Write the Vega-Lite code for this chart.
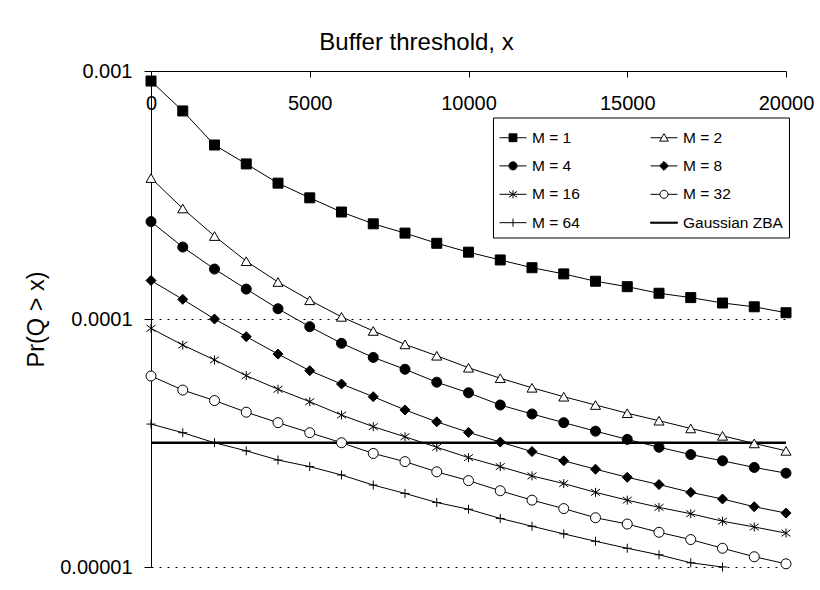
{
  "$schema": "https://vega.github.io/schema/vega-lite/v6.json",
  "autosize": {"type": "none"},
  "width": 635,
  "height": 496,
  "padding": {"left": 151, "top": 71, "right": 34, "bottom": 23},
  "background": "white",
  "config": {"font": "Liberation Sans", "view": {"stroke": null}},
  "data": {"values": [
    {"series":"M = 1","x":0,"p":9.11e-4},{"series":"M = 1","x":1000,"p":6.9e-4},{"series":"M = 1","x":2000,"p":5.03e-4},{"series":"M = 1","x":3000,"p":4.22e-4},{"series":"M = 1","x":4000,"p":3.53e-4},{"series":"M = 1","x":5000,"p":3.08e-4},{"series":"M = 1","x":6000,"p":2.7e-4},{"series":"M = 1","x":7000,"p":2.42e-4},{"series":"M = 1","x":8000,"p":2.22e-4},{"series":"M = 1","x":9000,"p":2.02e-4},{"series":"M = 1","x":10000,"p":1.86e-4},{"series":"M = 1","x":11000,"p":1.73e-4},{"series":"M = 1","x":12000,"p":1.61e-4},{"series":"M = 1","x":13000,"p":1.52e-4},{"series":"M = 1","x":14000,"p":1.42e-4},{"series":"M = 1","x":15000,"p":1.35e-4},{"series":"M = 1","x":16000,"p":1.27e-4},{"series":"M = 1","x":17000,"p":1.22e-4},{"series":"M = 1","x":18000,"p":1.16e-4},{"series":"M = 1","x":19000,"p":1.12e-4},{"series":"M = 1","x":20000,"p":1.06e-4},
    {"series":"M = 2","x":0,"p":3.7e-4},{"series":"M = 2","x":1000,"p":2.79e-4},{"series":"M = 2","x":2000,"p":2.16e-4},{"series":"M = 2","x":3000,"p":1.71e-4},{"series":"M = 2","x":4000,"p":1.41e-4},{"series":"M = 2","x":5000,"p":1.19e-4},{"series":"M = 2","x":6000,"p":1.02e-4},{"series":"M = 2","x":7000,"p":8.95e-5},{"series":"M = 2","x":8000,"p":7.9e-5},{"series":"M = 2","x":9000,"p":7.11e-5},{"series":"M = 2","x":10000,"p":6.36e-5},{"series":"M = 2","x":11000,"p":5.77e-5},{"series":"M = 2","x":12000,"p":5.28e-5},{"series":"M = 2","x":13000,"p":4.86e-5},{"series":"M = 2","x":14000,"p":4.5e-5},{"series":"M = 2","x":15000,"p":4.17e-5},{"series":"M = 2","x":16000,"p":3.89e-5},{"series":"M = 2","x":17000,"p":3.62e-5},{"series":"M = 2","x":18000,"p":3.38e-5},{"series":"M = 2","x":19000,"p":3.15e-5},{"series":"M = 2","x":20000,"p":2.94e-5},
    {"series":"M = 4","x":0,"p":2.47e-4},{"series":"M = 4","x":1000,"p":1.95e-4},{"series":"M = 4","x":2000,"p":1.59e-4},{"series":"M = 4","x":3000,"p":1.32e-4},{"series":"M = 4","x":4000,"p":1.1e-4},{"series":"M = 4","x":5000,"p":9.31e-5},{"series":"M = 4","x":6000,"p":7.98e-5},{"series":"M = 4","x":7000,"p":7.0e-5},{"series":"M = 4","x":8000,"p":6.27e-5},{"series":"M = 4","x":9000,"p":5.56e-5},{"series":"M = 4","x":10000,"p":5.04e-5},{"series":"M = 4","x":11000,"p":4.5e-5},{"series":"M = 4","x":12000,"p":4.14e-5},{"series":"M = 4","x":13000,"p":3.82e-5},{"series":"M = 4","x":14000,"p":3.53e-5},{"series":"M = 4","x":15000,"p":3.27e-5},{"series":"M = 4","x":16000,"p":3.04e-5},{"series":"M = 4","x":17000,"p":2.84e-5},{"series":"M = 4","x":18000,"p":2.68e-5},{"series":"M = 4","x":19000,"p":2.52e-5},{"series":"M = 4","x":20000,"p":2.39e-5},
    {"series":"M = 8","x":0,"p":1.43e-4},{"series":"M = 8","x":1000,"p":1.2e-4},{"series":"M = 8","x":2000,"p":1.0e-4},{"series":"M = 8","x":3000,"p":8.49e-5},{"series":"M = 8","x":4000,"p":7.22e-5},{"series":"M = 8","x":5000,"p":6.19e-5},{"series":"M = 8","x":6000,"p":5.47e-5},{"series":"M = 8","x":7000,"p":4.86e-5},{"series":"M = 8","x":8000,"p":4.3e-5},{"series":"M = 8","x":9000,"p":3.85e-5},{"series":"M = 8","x":10000,"p":3.49e-5},{"series":"M = 8","x":11000,"p":3.19e-5},{"series":"M = 8","x":12000,"p":2.92e-5},{"series":"M = 8","x":13000,"p":2.68e-5},{"series":"M = 8","x":14000,"p":2.48e-5},{"series":"M = 8","x":15000,"p":2.3e-5},{"series":"M = 8","x":16000,"p":2.15e-5},{"series":"M = 8","x":17000,"p":2.0e-5},{"series":"M = 8","x":18000,"p":1.88e-5},{"series":"M = 8","x":19000,"p":1.75e-5},{"series":"M = 8","x":20000,"p":1.65e-5},
    {"series":"M = 16","x":0,"p":9.17e-5},{"series":"M = 16","x":1000,"p":7.85e-5},{"series":"M = 16","x":2000,"p":6.84e-5},{"series":"M = 16","x":3000,"p":5.91e-5},{"series":"M = 16","x":4000,"p":5.21e-5},{"series":"M = 16","x":5000,"p":4.64e-5},{"series":"M = 16","x":6000,"p":4.1e-5},{"series":"M = 16","x":7000,"p":3.68e-5},{"series":"M = 16","x":8000,"p":3.35e-5},{"series":"M = 16","x":9000,"p":3.04e-5},{"series":"M = 16","x":10000,"p":2.76e-5},{"series":"M = 16","x":11000,"p":2.54e-5},{"series":"M = 16","x":12000,"p":2.33e-5},{"series":"M = 16","x":13000,"p":2.17e-5},{"series":"M = 16","x":14000,"p":2.0e-5},{"series":"M = 16","x":15000,"p":1.86e-5},{"series":"M = 16","x":16000,"p":1.74e-5},{"series":"M = 16","x":17000,"p":1.64e-5},{"series":"M = 16","x":18000,"p":1.53e-5},{"series":"M = 16","x":19000,"p":1.45e-5},{"series":"M = 16","x":20000,"p":1.37e-5},
    {"series":"M = 32","x":0,"p":5.89e-5},{"series":"M = 32","x":1000,"p":5.17e-5},{"series":"M = 32","x":2000,"p":4.69e-5},{"series":"M = 32","x":3000,"p":4.21e-5},{"series":"M = 32","x":4000,"p":3.82e-5},{"series":"M = 32","x":5000,"p":3.48e-5},{"series":"M = 32","x":6000,"p":3.17e-5},{"series":"M = 32","x":7000,"p":2.87e-5},{"series":"M = 32","x":8000,"p":2.66e-5},{"series":"M = 32","x":9000,"p":2.42e-5},{"series":"M = 32","x":10000,"p":2.23e-5},{"series":"M = 32","x":11000,"p":2.03e-5},{"series":"M = 32","x":12000,"p":1.86e-5},{"series":"M = 32","x":13000,"p":1.72e-5},{"series":"M = 32","x":14000,"p":1.58e-5},{"series":"M = 32","x":15000,"p":1.49e-5},{"series":"M = 32","x":16000,"p":1.38e-5},{"series":"M = 32","x":17000,"p":1.29e-5},{"series":"M = 32","x":18000,"p":1.19e-5},{"series":"M = 32","x":19000,"p":1.1e-5},{"series":"M = 32","x":20000,"p":1.03e-5},
    {"series":"M = 64","x":0,"p":3.77e-5},{"series":"M = 64","x":1000,"p":3.48e-5},{"series":"M = 64","x":2000,"p":3.17e-5},{"series":"M = 64","x":3000,"p":2.94e-5},{"series":"M = 64","x":4000,"p":2.7e-5},{"series":"M = 64","x":5000,"p":2.54e-5},{"series":"M = 64","x":6000,"p":2.35e-5},{"series":"M = 64","x":7000,"p":2.14e-5},{"series":"M = 64","x":8000,"p":1.98e-5},{"series":"M = 64","x":9000,"p":1.82e-5},{"series":"M = 64","x":10000,"p":1.71e-5},{"series":"M = 64","x":11000,"p":1.57e-5},{"series":"M = 64","x":12000,"p":1.46e-5},{"series":"M = 64","x":13000,"p":1.36e-5},{"series":"M = 64","x":14000,"p":1.27e-5},{"series":"M = 64","x":15000,"p":1.19e-5},{"series":"M = 64","x":16000,"p":1.12e-5},{"series":"M = 64","x":17000,"p":1.04e-5},{"series":"M = 64","x":18000,"p":1.0e-5},{"series":"M = 64","x":19000,"p":9.4e-6},{"series":"M = 64","x":20000,"p":8.9e-6},
    {"series":"Gaussian ZBA","x":0,"p":3.17e-5},{"series":"Gaussian ZBA","x":20000,"p":3.17e-5}
  ]},
  "encoding": {
    "x": {
      "field": "x", "type": "quantitative",
      "scale": {"domain": [0, 20000], "nice": false, "zero": false},
      "axis": {
        "orient": "bottom", "offset": -496,
        "values": [0, 5000, 10000, 15000, 20000], "format": "d",
        "title": "Buffer threshold, x", "titleX": 265, "titleY": -22,
        "titleBaseline": "alphabetic", "titleAlign": "center", "titleAngle": 0,
        "titleFontSize": 24, "titleFontWeight": "normal", "titleColor": "black", "titleFont": "Liberation Sans",
        "labelFontSize": 20, "labelColor": "black", "labelPadding": 16, "labelFont": "Liberation Sans",
        "labelFlush": false, "labelOverlap": false,
        "tickSize": 6, "tickColor": "black", "tickWidth": 1,
        "domainColor": "black", "domainWidth": 1, "grid": false
      }
    },
    "y": {
      "field": "p", "type": "quantitative",
      "scale": {"type": "log", "domain": [0.00001, 0.001], "nice": false},
      "axis": {
        "values": [0.00001, 0.0001, 0.001], "format": ".5~f",
        "title": "Pr(Q > x)", "titleX": -108, "titleY": 248, "titleAngle": 270,
        "titleBaseline": "alphabetic", "titleAlign": "center",
        "titleFontSize": 23.5, "titleFontWeight": "normal", "titleColor": "black", "titleFont": "Liberation Sans",
        "labelFontSize": 20, "labelColor": "black", "labelPadding": 12, "labelFont": "Liberation Sans",
        "labelFlush": false, "labelOverlap": false,
        "tickSize": 7, "tickColor": "black", "tickWidth": 1,
        "domainColor": "black", "domainWidth": 1,
        "grid": true, "gridColor": "black", "gridDash": [2, 6], "gridWidth": 1, "gridOpacity": 1
      }
    }
  },
  "resolve": {
    "scale": {"shape": "independent", "fill": "independent", "stroke": "independent"},
    "legend": {"shape": "independent", "fill": "independent", "stroke": "independent"}
  },
  "layer": [
    {
      "transform": [{"filter": "datum.series === 'Gaussian ZBA'"}],
      "mark": {"type": "line", "color": "black", "strokeWidth": 2.5},
      "encoding": {}
    },
    {
      "transform": [{"filter": "datum.series !== 'Gaussian ZBA'"}],
      "mark": {"type": "line", "color": "black", "strokeWidth": 1, "clip": true},
      "encoding": {"detail": {"field": "series"}}
    },
    {
      "transform": [{"filter": "datum.series !== 'Gaussian ZBA' && datum.p >= 0.00001"}],
      "mark": {"type": "point", "filled": true, "stroke": "black", "strokeWidth": 1, "size": 100, "opacity": 1},
      "encoding": {
        "shape": {
          "field": "series", "type": "nominal",
          "scale": {
            "domain": ["M = 1", "M = 2", "M = 4", "M = 8", "M = 16", "M = 32", "M = 64", "Gaussian ZBA"],
            "range": ["square", "triangle-up", "circle", "diamond", "M0,-0.9V0.9M-0.9,-0.65L0.9,0.65M-0.9,0.65L0.9,-0.65", "circle", "M-0.9,0H0.9M0,-0.9V0.9", "M-1,0H1"]
          },
          "legend": null
        },
        "fill": {
          "field": "series", "type": "nominal",
          "scale": {
            "domain": ["M = 1", "M = 2", "M = 4", "M = 8", "M = 16", "M = 32", "M = 64", "Gaussian ZBA"],
            "range": ["black", "white", "black", "black", "black", "white", "black", "black"]
          },
          "legend": null
        }
      }
    },
    {
      "transform": [{"filter": "datum.x === 0"}],
      "mark": {"type": "point", "filled": true, "stroke": "black", "strokeWidth": 1, "opacity": 0},
      "encoding": {
        "shape": {
          "field": "series", "type": "nominal",
          "scale": {
            "domain": ["M = 1", "M = 4", "M = 16", "M = 64", "M = 2", "M = 8", "M = 32", "Gaussian ZBA"],
            "range": [
              "M-1,0H-0.29M0.29,0H1M-0.29,-0.29H0.29V0.29H-0.29Z",
              "M-1,0H-0.3M0.3,0H1M-0.3,0A0.3,0.3,0,1,1,0.3,0A0.3,0.3,0,1,1,-0.3,0Z",
              "M-1,0H1M0,-0.3V0.3M-0.3,-0.22L0.3,0.22M-0.3,0.22L0.3,-0.22",
              "M-1,0H1M0,-0.3V0.3",
              "M-1,0H-0.17M0.17,0H1M0,-0.3L0.32,0.25L-0.32,0.25Z",
              "M-1,0H-0.33M0.33,0H1M-0.33,0L0,-0.33L0.33,0L0,0.33Z",
              "M-1,0H-0.3M0.3,0H1M-0.3,0A0.3,0.3,0,1,1,0.3,0A0.3,0.3,0,1,1,-0.3,0Z",
              "M-1,-0.04H1V0.04H-1Z"
            ]
          },
          "legend": {
            "orient": "none", "legendX": 342, "legendY": 46.5,
            "title": null, "columns": 2, "columnPadding": 68, "rowPadding": 5.4,
            "padding": 6, "strokeColor": "black", "fillColor": "white",
            "symbolSize": 729, "symbolStrokeWidth": 1, "symbolOpacity": 1, "symbolStrokeColor": "black",
            "labelFontSize": 15.5, "labelColor": "black", "labelOffset": 5, "labelFont": "Liberation Sans"
          }
        },
        "fill": {
          "field": "series", "type": "nominal",
          "scale": {
            "domain": ["M = 1", "M = 4", "M = 16", "M = 64", "M = 2", "M = 8", "M = 32", "Gaussian ZBA"],
            "range": ["black", "black", "black", "black", "white", "black", "white", "black"]
          },
          "legend": {
            "orient": "none", "legendX": 342, "legendY": 46.5,
            "title": null, "columns": 2, "columnPadding": 68, "rowPadding": 5.4,
            "padding": 6, "strokeColor": "black", "fillColor": "white",
            "symbolSize": 729, "symbolStrokeWidth": 1, "symbolOpacity": 1, "symbolStrokeColor": "black",
            "labelFontSize": 15.5, "labelColor": "black", "labelOffset": 5, "labelFont": "Liberation Sans"
          }
        },
        "stroke": {
          "field": "series", "type": "nominal",
          "scale": {
            "domain": ["M = 1", "M = 4", "M = 16", "M = 64", "M = 2", "M = 8", "M = 32", "Gaussian ZBA"],
            "range": ["black", "black", "black", "black", "black", "black", "black", "black"]
          },
          "legend": {
            "orient": "none", "legendX": 342, "legendY": 46.5,
            "title": null, "columns": 2, "columnPadding": 68, "rowPadding": 5.4,
            "padding": 6, "strokeColor": "black", "fillColor": "white",
            "symbolSize": 729, "symbolStrokeWidth": 1, "symbolOpacity": 1, "symbolStrokeColor": "black",
            "labelFontSize": 15.5, "labelColor": "black", "labelOffset": 5, "labelFont": "Liberation Sans"
          }
        }
      }
    }
  ]
}
